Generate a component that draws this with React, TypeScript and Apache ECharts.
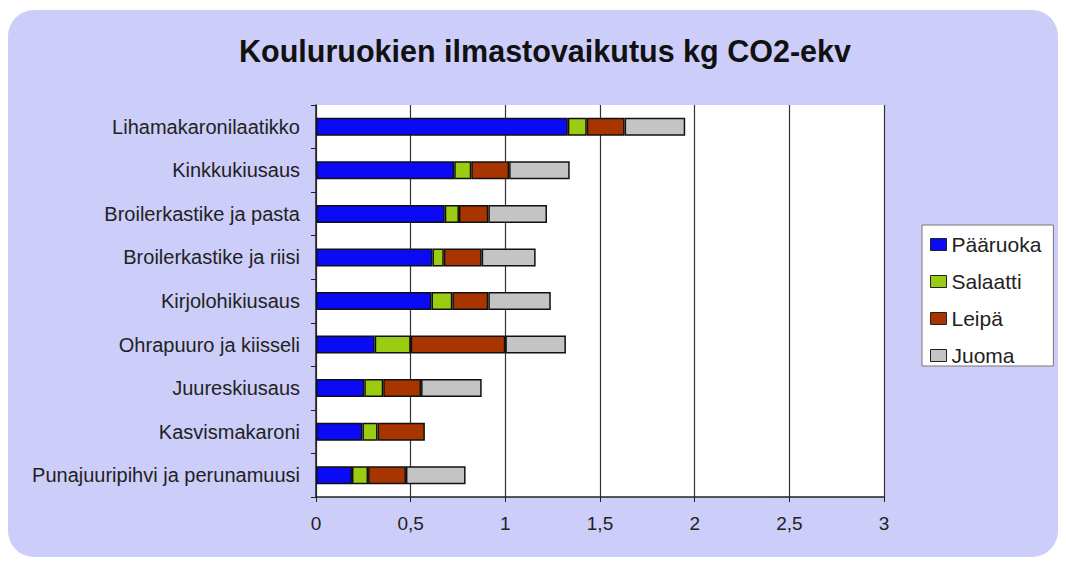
import React, { useEffect, useRef } from "react";
import * as echarts from "echarts";

const categories = [
  "Lihamakaronilaatikko",
  "Kinkkukiusaus",
  "Broilerkastike ja pasta",
  "Broilerkastike ja riisi",
  "Kirjolohikiusaus",
  "Ohrapuuro ja kiisseli",
  "Juureskiusaus",
  "Kasvismakaroni",
  "Punajuuripihvi ja perunamuusi",
];
const paaruoka = [1.33, 0.73, 0.68, 0.615, 0.61, 0.31, 0.255, 0.245, 0.19];
const salaatti = [0.1, 0.09, 0.075, 0.06, 0.11, 0.19, 0.1, 0.08, 0.085];
const leipa = [0.2, 0.2, 0.155, 0.2, 0.19, 0.5, 0.2, 0.25, 0.2];
const juoma = [0.32, 0.32, 0.31, 0.285, 0.33, 0.32, 0.32, null, 0.315];

const seriesNames = ["Pääruoka", "Salaatti", "Leipä", "Juoma"];
const seriesColors = ["#0A0AF5", "#9ACC12", "#A83400", "#C4C4C4"];
const seriesData = [paaruoka, salaatti, leipa, juoma];

const FONT = "Liberation Sans, Arial, sans-serif";

export default function App() {
  const ref = useRef<HTMLDivElement>(null);
  useEffect(() => {
    if (!ref.current) return;
    const chart = echarts.init(ref.current, null, { renderer: "svg" });
    chart.setOption({
      animation: false,
      backgroundColor: "#ffffff",
      graphic: [
        {
          type: "rect",
          z: -10,
          silent: true,
          shape: { x: 8, y: 10, width: 1050, height: 547, r: 26 },
          style: { fill: "#CDCDFA" },
        },
      ],
      title: {
        text: "Kouluruokien ilmastovaikutus kg CO2-ekv",
        left: 540,
        textAlign: "center",
        top: 30,
        textStyle: {
          fontFamily: FONT,
          fontSize: 30.5,
          fontWeight: "bold",
          color: "#111",
        },
      },
      legend: {
        orient: "vertical",
        left: 922,
        top: 225,
        padding: [9, 12, 0, 8],
        backgroundColor: "#ffffff",
        borderColor: "#777",
        borderWidth: 1,
        itemWidth: 16,
        itemHeight: 12,
        itemGap: 16,
        icon: "rect",
        itemStyle: { borderColor: "#222", borderWidth: 1 },
        textStyle: { fontFamily: FONT, fontSize: 21, lineHeight: 20, color: "#222" },
        data: seriesNames,
      },
      grid: {
        left: 316,
        right: 182,
        top: 105,
        bottom: 68,
        show: true,
        backgroundColor: "#ffffff",
        borderWidth: 0,
      },
      xAxis: {
        type: "value",
        min: 0,
        max: 3,
        interval: 0.5,
        axisLine: { show: true, lineStyle: { color: "#222", width: 1.5 } },
        axisTick: { show: true, length: 5, lineStyle: { color: "#222" } },
        splitLine: { show: true, lineStyle: { color: "#333", width: 1.2 } },
        axisLabel: {
          fontFamily: FONT,
          fontSize: 19,
          color: "#222",
          margin: 17,
          formatter: (v: number) => String(v).replace(".", ","),
        },
      },
      yAxis: {
        type: "category",
        inverse: true,
        data: categories,
        axisLine: { show: true, lineStyle: { color: "#222", width: 1.5 } },
        axisTick: { show: true, length: 5, lineStyle: { color: "#222" } },
        axisLabel: {
          fontFamily: FONT,
          fontSize: 20,
          color: "#222",
          margin: 16,
        },
      },
      series: seriesNames.map((name, i) => ({
        name,
        type: "bar",
        stack: "total",
        barWidth: 18,
        data: seriesData[i],
        itemStyle: {
          color: seriesColors[i],
          borderColor: "#111",
          borderWidth: 1.5,
        },
      })),
    });
    return () => chart.dispose();
  }, []);
  return (
    <div
      ref={ref}
      style={{ position: "fixed", left: 0, top: 0, width: 1066, height: 565 }}
    />
  );
}
